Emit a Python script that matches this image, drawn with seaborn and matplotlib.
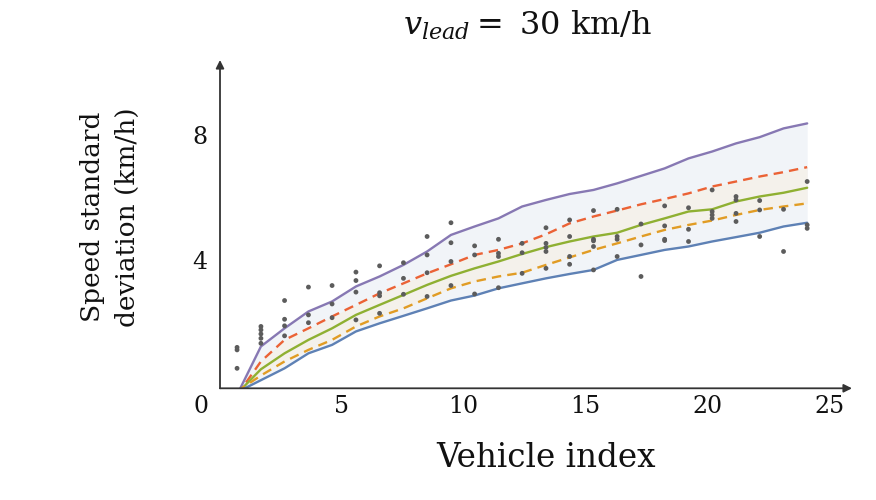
import matplotlib
matplotlib.use("Agg")
import matplotlib.pyplot as plt
import numpy as np
import pandas as pd
import seaborn as sns

# Positions of the 25 vehicles along the axis
vehicle_pos = [0.70, 1.68, 2.65, 3.63, 4.60, 5.58, 6.55, 7.53, 8.50, 9.48,
               10.45, 11.43, 12.40, 13.38, 14.35, 15.33, 16.30, 17.28, 18.25,
               19.23, 20.20, 21.18, 22.15, 23.13, 24.10]

# Envelope curves of the speed standard deviation (km/h)
sd_upper = [-0.32, 1.23, 1.81, 2.35, 2.67, 3.15, 3.47, 3.84, 4.27, 4.80, 5.07,
            5.33, 5.71, 5.92, 6.11, 6.24, 6.45, 6.69, 6.93, 7.25, 7.47, 7.73,
            7.93, 8.21, 8.37]
sd_upper_q = [-0.33, 0.75, 1.44, 1.81, 2.19, 2.56, 2.93, 3.25, 3.57, 3.86, 4.16,
              4.32, 4.53, 4.82, 5.17, 5.39, 5.58, 5.78, 5.95, 6.13, 6.35, 6.51,
              6.67, 6.81, 6.97]
sd_mean = [-0.28, 0.50, 1.01, 1.44, 1.81, 2.24, 2.56, 2.88, 3.20, 3.49, 3.73,
           3.95, 4.19, 4.41, 4.59, 4.75, 4.87, 5.12, 5.33, 5.55, 5.62, 5.87,
           6.03, 6.15, 6.31]
sd_lower_q = [-0.21, 0.30, 0.75, 1.12, 1.44, 1.87, 2.19, 2.45, 2.77, 3.09, 3.31,
              3.47, 3.59, 3.84, 4.08, 4.32, 4.53, 4.75, 4.96, 5.12, 5.26, 5.44,
              5.60, 5.71, 5.81]
sd_lower = [-0.235, 0.15, 0.53, 1.01, 1.28, 1.71, 1.97, 2.21, 2.45, 2.70, 2.86,
            3.09, 3.25, 3.41, 3.55, 3.68, 4.00, 4.16, 4.32, 4.43, 4.59, 4.73,
            4.87, 5.07, 5.19]

# Measured standard deviations for each vehicle
samples = [
    [1.20, 1.12, 0.53],
    [1.87, 1.76, 1.63, 1.49, 1.33],
    [2.70, 2.10, 1.89, 1.57],
    [3.13, 2.24, 1.99],
    [3.18, 2.59, 2.15],
    [3.61, 3.34, 2.97, 2.08],
    [3.81, 2.95, 2.85, 2.29],
    [3.91, 3.41, 2.90],
    [4.75, 4.16, 3.59, 2.83],
    [5.19, 4.55, 3.95, 3.18],
    [4.45, 4.16, 2.91],
    [4.66, 4.21, 4.11, 3.11],
    [4.53, 4.23, 3.57],
    [5.03, 4.53, 4.40, 4.27, 3.73],
    [5.28, 4.75, 4.11, 3.86],
    [5.58, 4.66, 4.61, 4.43, 3.68],
    [5.62, 4.75, 4.66, 4.11],
    [5.15, 4.48, 3.47],
    [5.73, 5.09, 4.66, 4.62],
    [5.67, 4.98, 4.59],
    [6.24, 5.55, 5.44, 5.33],
    [6.03, 5.92, 5.49, 5.23],
    [5.90, 5.60, 4.75],
    [5.62, 4.27],
    [6.51, 5.12, 5.01],
]

x_ticks = [5, 10, 15, 20, 25]
y_ticks = [4, 8]

sns.set_theme(style="white")
plt.rcParams["font.family"] = ["DejaVu Serif"]
plt.rcParams["mathtext.fontset"] = "dejavuserif"

fig = plt.figure(figsize=(8.76, 5.0), dpi=100)
ax = fig.add_axes([220 / 876, 1 - 388.3 / 500, 632 / 876, 328.3 / 500])

blue, orange, green, red, purple = "#5e81b5", "#e19c24", "#8fb032", "#eb6235", "#8778b3"

# shaded bands: outer envelope and inner quantile band
ax.fill_between(vehicle_pos, sd_lower, sd_upper, color="#f1f4f8", lw=0)
ax.fill_between(vehicle_pos, sd_lower_q, sd_upper_q, color="#f4f1eb", lw=0)

curves = pd.DataFrame({
    "pos": vehicle_pos * 5,
    "sd": sd_upper + sd_upper_q + sd_mean + sd_lower_q + sd_lower,
    "curve": (["upper"] * 25 + ["upper_q"] * 25 + ["mean"] * 25
              + ["lower_q"] * 25 + ["lower"] * 25),
})
sns.lineplot(
    data=curves, x="pos", y="sd", hue="curve", style="curve",
    palette={"upper": purple, "upper_q": red, "mean": green,
             "lower_q": orange, "lower": blue},
    dashes={"upper": "", "upper_q": (4, 2.6), "mean": "",
            "lower_q": (4, 2.6), "lower": ""},
    linewidth=1.7, legend=False, sort=False, ax=ax,
)

points = pd.DataFrame({
    "pos": [p for p, s in zip(vehicle_pos, samples) for _ in s],
    "sd": [v for s in samples for v in s],
})
sns.scatterplot(data=points, x="pos", y="sd", color="#5c5c5c", s=12,
                edgecolor="none", ax=ax, zorder=5)

ax.set_xlim(0, 25.94)
ax.set_ylim(-0.11, 10.4)
ax.set_xticks(x_ticks)
ax.set_yticks(y_ticks)
ax.set_xticklabels([str(t) for t in x_ticks])
ax.set_yticklabels([str(t) for t in y_ticks])
ax.tick_params(direction="in", length=4, width=1.0, color="#333333",
               labelcolor="#111111", labelsize=17)
ax.tick_params(axis="x", pad=5)
ax.tick_params(axis="y", pad=9)
for s in ax.spines.values():
    s.set_visible(False)

arrow = dict(arrowstyle="-|>", color="#333333", lw=1.3, mutation_scale=12,
             shrinkA=0, shrinkB=0)
ax.annotate("", xy=(1, 0), xytext=(0, 0), xycoords="axes fraction",
            arrowprops=arrow, annotation_clip=False)
ax.annotate("", xy=(0, 1), xytext=(0, 0), xycoords="axes fraction",
            arrowprops=arrow, annotation_clip=False)
ax.annotate("0", xy=(0, 0), xycoords="axes fraction", xytext=(-14, -13),
            textcoords="offset points", ha="center", va="center",
            fontsize=17, color="#111111")

ax.set_xlabel("Vehicle index", fontsize=23.5, color="#111111")
ax.xaxis.set_label_coords(0.516, -0.163)
ax.set_ylabel("Speed standard\ndeviation (km/h)", fontsize=19, color="#111111",
              linespacing=1.5, va="center", ha="center")
ax.yaxis.set_label_coords(-0.174, 0.522)

fig.text(528 / 876, 1 - 35 / 500, r"$v_{lead} =$ 30 km/h", fontsize=23,
         ha="center", va="baseline", color="#111111")

fig.savefig("out.png", dpi=100, facecolor="white")
